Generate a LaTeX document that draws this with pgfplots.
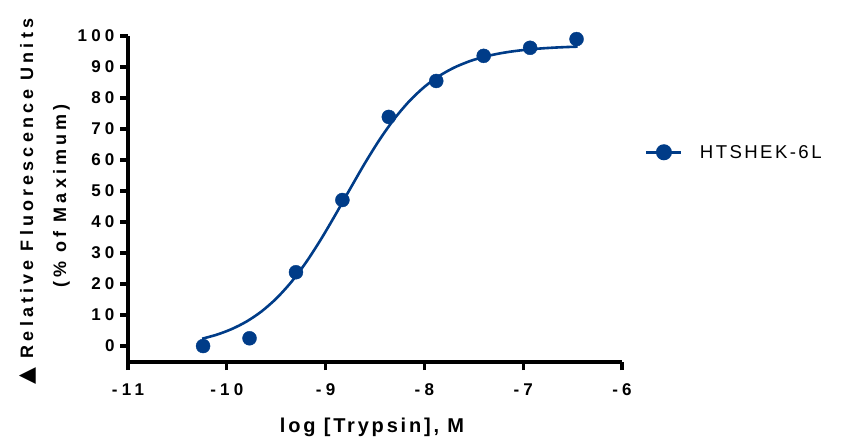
\documentclass[border=0pt]{standalone}
\usepackage{fontspec}
\setmainfont{Liberation Sans}
\newfontfamily\ticksf[LetterSpace=25]{Liberation Sans}
\newfontfamily\xlabsf[LetterSpace=14]{Liberation Sans}
\newfontfamily\ylabsf[LetterSpace=23]{Liberation Sans}
\newfontfamily\legsf[LetterSpace=13]{Liberation Sans}
\newfontfamily\tri{DejaVu Sans}
\usepackage{pgfplots}
\pgfplotsset{compat=1.18}
\definecolor{navy}{RGB}{0,60,136}
\begin{document}
\begin{tikzpicture}[x=1pt,y=1pt]
\path[use as bounding box] (0,0) rectangle (842,437);
\begin{axis}[
  at={(128pt,75pt)}, anchor=south west,
  scale only axis, width=494pt, height=326pt,
  xmin=-11, xmax=-6, ymin=-5.15, ymax=100,
  axis x line*=bottom, axis y line*=left,
  axis line style={line width=3.2pt, -},
  xtick={-11,-10,-9,-8,-7,-6},
  ytick={0,10,20,30,40,50,60,70,80,90,100},
  tick style={line width=3.2pt, black},
  major tick length=8pt,
  tick align=outside,
  clip=false,
  /pgf/number format/assume math mode=true,
  tick label style={font=\fontsize{17}{17}\selectfont\bfseries\ticksf\bfseries},
  xticklabel style={yshift=-10pt},
  yticklabel style={xshift=-2pt},
  legend style={at={(axis cs:-5.77,62.5)}, anchor=west, draw=none, fill=none,
    inner sep=0pt, column sep=17pt, nodes={inner sep=0pt},
    font=\fontsize{18.6}{18.6}\selectfont\legsf},
  legend image code/.code={%
    \draw[#1, mark repeat=2, mark phase=2] plot coordinates {(0pt,0pt) (17.5pt,0pt) (35pt,0pt)};},
]
\addplot[navy, line width=2.6pt, smooth, forget plot] coordinates {
(-10.25,2.36) (-10.10,3.68) (-9.95,5.48) (-9.80,7.91) (-9.65,11.13)
(-9.50,15.30) (-9.35,20.55) (-9.20,26.90) (-9.05,34.28) (-8.90,42.38)
(-8.75,50.82) (-8.60,59.09) (-8.45,66.74) (-8.30,73.46) (-8.15,79.07)
(-8.00,83.59) (-7.85,87.11) (-7.70,89.79) (-7.55,91.78) (-7.40,93.25)
(-7.25,94.31) (-7.10,95.08) (-6.95,95.63) (-6.80,96.03) (-6.65,96.31)
(-6.50,96.51) (-6.45,96.56)};
\addplot[navy, only marks, mark=*, mark size=7pt, forget plot] coordinates {
(-10.24,0.0) (-9.77,2.5) (-9.30,23.8) (-8.83,47.1) (-8.36,73.9)
(-7.88,85.5) (-7.40,93.6) (-6.93,96.2) (-6.46,99.0)};
\addlegendimage{navy, line width=3pt, mark=*, mark size=6.5pt}
\addlegendentry{HTSHEK-6L}
\end{axis}
\node[rotate=90, anchor=base, inner sep=0pt] at (33,235.5)
  {{\tri\fontsize{22}{22}\selectfont ▲}\hspace{9pt}{\fontsize{18}{18}\selectfont\ylabsf\bfseries Relative Fluorescence Units}};
\node[rotate=90, anchor=base, inner sep=0pt] at (66,241)
  {\fontsize{18}{18}\selectfont\ylabsf\bfseries (\% of Maximum)};
\node[anchor=base, inner sep=0pt] at (372,5)
  {\fontsize{20}{20}\selectfont\xlabsf\bfseries log [Trypsin], M};
\end{tikzpicture}
\end{document}
